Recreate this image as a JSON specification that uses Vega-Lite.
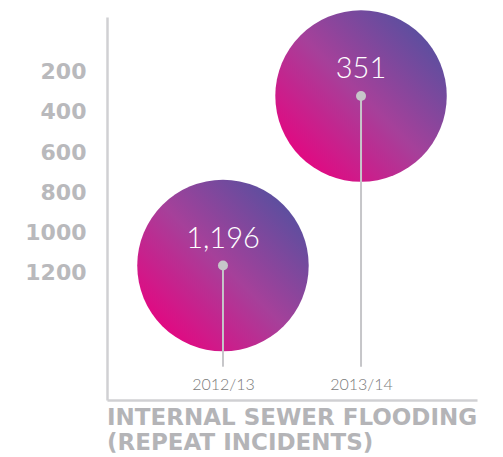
{
  "$schema": "https://vega.github.io/schema/vega-lite/v6.json",
  "width": 370,
  "height": 383,
  "autosize": {"type": "none"},
  "padding": {"left": 107, "top": 17, "right": 26, "bottom": 57},
  "background": "white",
  "config": {"view": {"stroke": null}},
  "title": {
    "text": ["INTERNAL SEWER FLOODING", "(REPEAT INCIDENTS)"],
    "orient": "bottom",
    "anchor": "start",
    "frame": "group",
    "font": "DejaVu Sans",
    "fontWeight": "bold",
    "fontSize": 23,
    "color": "#b4b4b7",
    "lineHeight": 25,
    "offset": 7
  },
  "data": {
    "values": [
      {"year": "2012/13", "incidents": 1196},
      {"year": "2013/14", "incidents": 351}
    ]
  },
  "encoding": {
    "x": {
      "field": "year",
      "type": "nominal",
      "scale": {"type": "point", "padding": 0.84},
      "axis": {
        "title": null,
        "labelAngle": 0,
        "ticks": false,
        "tickSize": 0,
        "labelPadding": -16,
        "labelBaseline": "middle",
        "labelFont": "Lato",
        "labelFontWeight": 300,
        "labelFontSize": 16,
        "labelColor": "#7a7a7a",
        "domainColor": "#d0d0d3",
        "domainWidth": 2.5
      }
    },
    "y": {
      "field": "incidents",
      "type": "quantitative",
      "scale": {"domain": [-43, 1866], "reverse": true, "nice": false, "zero": false},
      "axis": {
        "title": null,
        "values": [200, 400, 600, 800, 1000, 1200],
        "format": "d",
        "grid": false,
        "ticks": false,
        "tickSize": 0,
        "labelPadding": 21,
        "labelOffset": 6,
        "labelFont": "DejaVu Sans",
        "labelFontWeight": "bold",
        "labelFontSize": 22,
        "labelColor": "#b9b9bc",
        "domainColor": "#d0d0d3",
        "domainWidth": 2.5
      }
    }
  },
  "layer": [
    {
      "mark": {
        "type": "point",
        "shape": "circle",
        "filled": true,
        "opacity": 1,
        "size": 29400,
        "color": {
          "gradient": "linear",
          "x1": 0, "y1": 1, "x2": 1, "y2": 0,
          "stops": [
            {"offset": 0.1, "color": "#e8037f"},
            {"offset": 0.5, "color": "#a6409a"},
            {"offset": 0.95, "color": "#4a52a0"}
          ]
        }
      }
    },
    {
      "mark": {"type": "rule", "color": "#c6c6c9", "strokeWidth": 2},
      "encoding": {"y2": {"datum": 1700}}
    },
    {
      "mark": {"type": "point", "shape": "circle", "filled": true, "opacity": 1, "size": 100, "color": "#c6c6c9"}
    },
    {
      "mark": {"type": "text", "color": "white", "font": "Lato", "fontWeight": 300, "fontSize": 29, "baseline": "middle", "dy": -27},
      "encoding": {"text": {"field": "incidents", "type": "quantitative", "format": ","}}
    }
  ]
}
